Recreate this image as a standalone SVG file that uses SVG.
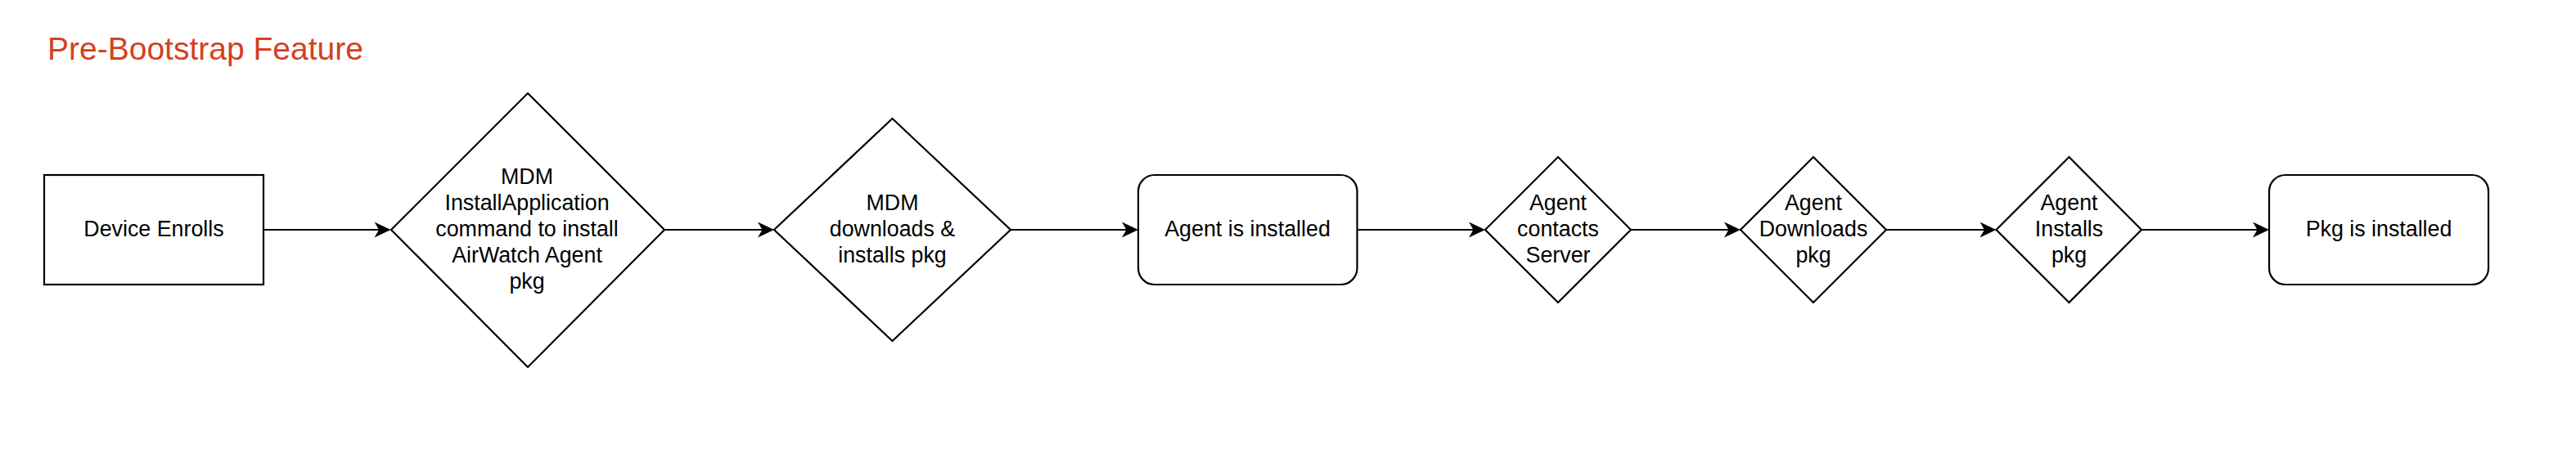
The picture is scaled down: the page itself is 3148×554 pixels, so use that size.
<svg xmlns="http://www.w3.org/2000/svg" width="3148" height="554" viewBox="0 0 3148 554">
<style>
.shape{fill:#ffffff;stroke:#000000;stroke-width:2.2}
.lbl{font-family:"Liberation Sans",Arial,Helvetica,sans-serif;font-size:26.8px;fill:#000000;text-anchor:middle}
.edge{fill:none;stroke:#000000;stroke-width:2.2}
.title{font-family:"Liberation Sans",Arial,Helvetica,sans-serif;font-size:39px;fill:#D4401E}
</style>
<defs>
<marker id="arrow" viewBox="0 0 20 20" refX="18" refY="10" markerWidth="20" markerHeight="20" markerUnits="userSpaceOnUse" orient="auto">
<path d="M0,0.5 L20,10 L0,19.5 L5.5,10 Z" fill="#000000"/>
</marker>
</defs>
<rect width="3148" height="554" fill="#ffffff"/>
<text class="title" x="58" y="73">Pre-Bootstrap Feature</text>
<g id="connectors">
<path class="edge" d="M322,281 L475.5,281" marker-end="url(#arrow)"/>
<path class="edge" d="M812,281 L944,281" marker-end="url(#arrow)"/>
<path class="edge" d="M1235,281 L1389,281" marker-end="url(#arrow)"/>
<path class="edge" d="M1658.5,281 L1813,281" marker-end="url(#arrow)"/>
<path class="edge" d="M1993,281 L2125,281" marker-end="url(#arrow)"/>
<path class="edge" d="M2305,281 L2437.5,281" marker-end="url(#arrow)"/>
<path class="edge" d="M2617,281 L2771,281" marker-end="url(#arrow)"/>
</g>
<g id="device-enrolls">
<rect class="shape" x="54" y="214" width="268" height="134"/>
<text class="lbl" x="188" y="289">Device Enrolls</text>
</g>
<g id="mdm-installapplication">
<polygon class="shape" points="645,114 812,281 645,449 478,281"/>
<text class="lbl" x="644" y="225">MDM</text>
<text class="lbl" x="644" y="257">InstallApplication</text>
<text class="lbl" x="644" y="289">command to install</text>
<text class="lbl" x="644" y="321">AirWatch Agent</text>
<text class="lbl" x="644" y="353">pkg</text>
</g>
<g id="mdm-downloads">
<polygon class="shape" points="1090.5,145 1235,281 1090.5,417 946,281"/>
<text class="lbl" x="1090.5" y="257">MDM</text>
<text class="lbl" x="1090.5" y="289">downloads &amp;</text>
<text class="lbl" x="1090.5" y="321">installs pkg</text>
</g>
<g id="agent-installed">
<rect class="shape" x="1391" y="214" width="267.5" height="134" rx="20" ry="20"/>
<text class="lbl" x="1524.5" y="289">Agent is installed</text>
</g>
<g id="agent-contacts">
<polygon class="shape" points="1904,192 1993,281 1904,370 1815,281"/>
<text class="lbl" x="1904" y="257">Agent</text>
<text class="lbl" x="1904" y="289">contacts</text>
<text class="lbl" x="1904" y="321">Server</text>
</g>
<g id="agent-downloads">
<polygon class="shape" points="2216,192 2305,281 2216,370 2127,281"/>
<text class="lbl" x="2216" y="257">Agent</text>
<text class="lbl" x="2216" y="289">Downloads</text>
<text class="lbl" x="2216" y="321">pkg</text>
</g>
<g id="agent-installs">
<polygon class="shape" points="2528.5,192 2617,281 2528.5,370 2439.5,281"/>
<text class="lbl" x="2528.5" y="257">Agent</text>
<text class="lbl" x="2528.5" y="289">Installs</text>
<text class="lbl" x="2528.5" y="321">pkg</text>
</g>
<g id="pkg-installed">
<rect class="shape" x="2773" y="214" width="268" height="134" rx="20" ry="20"/>
<text class="lbl" x="2907" y="289">Pkg is installed</text>
</g>
</svg>
